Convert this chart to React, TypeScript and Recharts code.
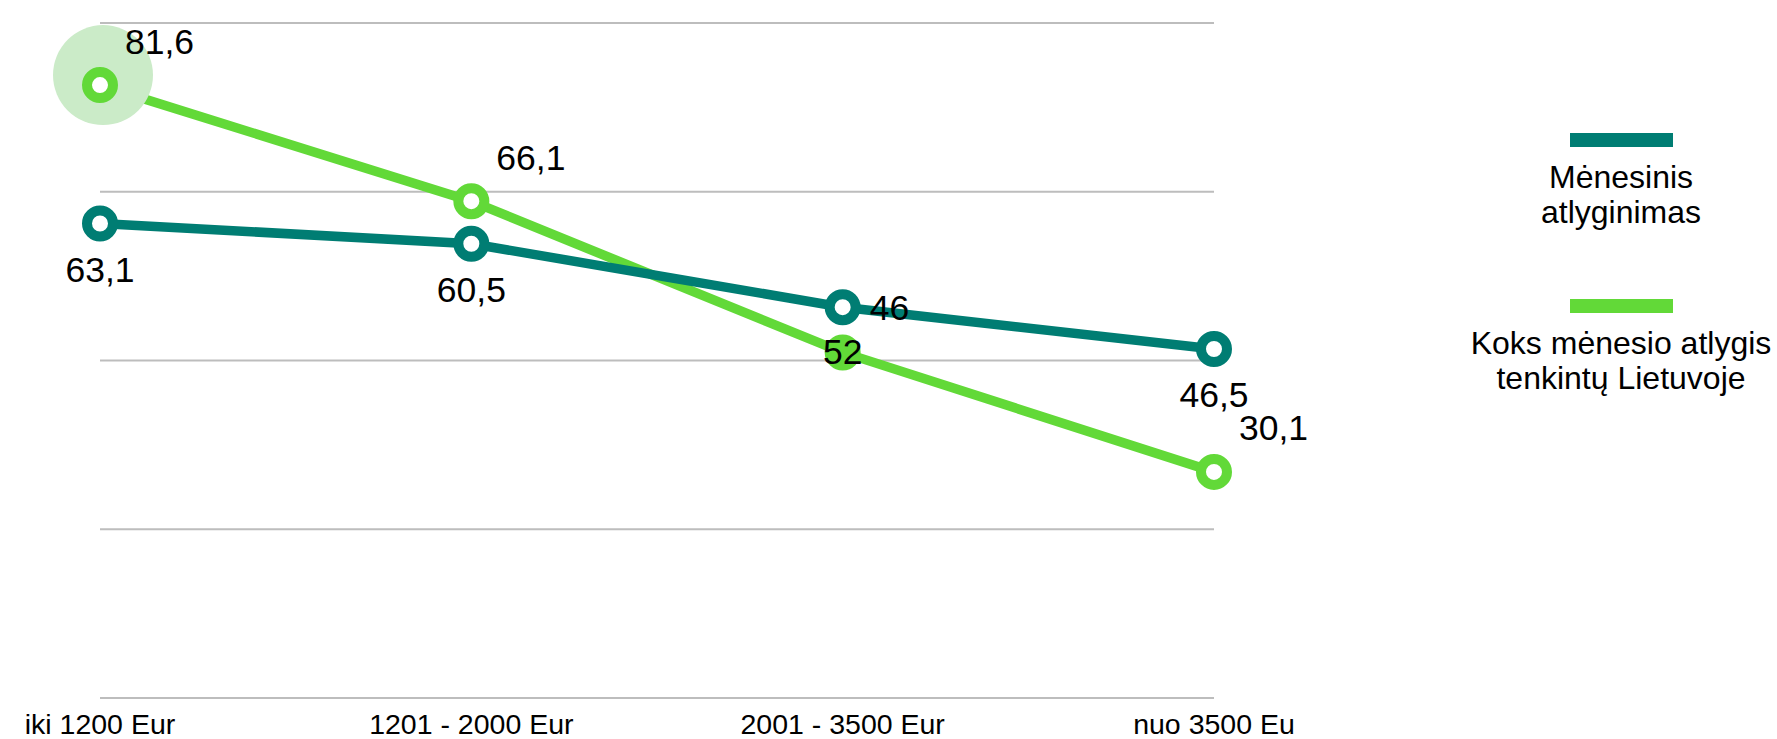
import React from 'react';
import { LineChart, Line, XAxis, YAxis, CartesianGrid, Legend, LabelList, ReferenceDot } from 'recharts';

// ---- data ----
const categories = ['iki 1200 Eur', '1201 - 2000 Eur', '2001 - 3500 Eur', 'nuo 3500 Eu'];
const salaryValues = [70.3, 67.3, 57.9, 51.7];
const satisfiedValues = [90.8, 73.6, 51.2, 33.5];
const salaryLabels = ['63,1', '60,5', '46', '46,5'];
const satisfiedLabels = ['81,6', '66,1', '52', '30,1'];
const yTicks = [0, 25, 50, 75, 100];
const salaryName = 'Mėnesinis\natlyginimas';
const satisfiedName = 'Koks mėnesio atlygis\ntenkintų Lietuvoje';

// ---- styles ----
const FONT = '"Liberation Sans", Arial, Helvetica, sans-serif';
const TEAL = '#007d73';
const GREEN = '#62d938';
const HALO = '#cbebc8';

const data = categories.map((c, i) => ({
  category: c,
  salary: salaryValues[i],
  satisfied: satisfiedValues[i],
  salaryLabel: salaryLabels[i],
  satisfiedLabel: satisfiedLabels[i],
}));

type Placement = { dx: number; dy: number; anchor: 'start' | 'middle' | 'end' };
const satisfiedPlacement: Placement[] = [
  { dx: 25, dy: -31, anchor: 'start' },
  { dx: 25, dy: -31, anchor: 'start' },
  { dx: 0, dy: 12, anchor: 'middle' },
  { dx: 25, dy: -32, anchor: 'start' },
];
const salaryPlacement: Placement[] = [
  { dx: 0, dy: 59, anchor: 'middle' },
  { dx: 0, dy: 58, anchor: 'middle' },
  { dx: 27, dy: 13, anchor: 'start' },
  { dx: 0, dy: 58, anchor: 'middle' },
];

const makeDot = (color: string, filledIndex: number) => (props: any) => {
  const { cx, cy, index } = props;
  if (cx == null || cy == null) return <g key={`e-${index}`} />;
  return (
    <circle
      key={`d-${color}-${index}`}
      cx={cx}
      cy={cy}
      r={13}
      fill={index === filledIndex ? color : '#ffffff'}
      stroke={color}
      strokeWidth={10}
    />
  );
};

const makeLabel = (placements: Placement[]) => (props: any) => {
  const { index, value } = props;
  const x = props.x ?? props.viewBox?.x;
  const y = props.y ?? props.viewBox?.y;
  if (x == null || y == null) return null;
  const p = placements[index] || placements[0];
  return (
    <text
      key={`l-${index}`}
      x={x + p.dx}
      y={y + p.dy}
      textAnchor={p.anchor}
      fontSize={35.5}
      fill="#000000"
      fontFamily={FONT}
    >
      {value}
    </text>
  );
};

const legendOrder = [salaryName, satisfiedName];

const renderLegend = (props: any) => {
  const payload: any[] = props.payload || [];
  const items = legendOrder
    .map((n) => payload.find((p) => p.value === n))
    .filter(Boolean);
  return (
    <div style={{ position: 'relative', width: 320, height: 290 }}>
      {items.map((it: any, i: number) => (
        <div
          key={i}
          style={{ position: 'absolute', left: 0, top: i * 166, width: 320, textAlign: 'center' }}
        >
          <div style={{ width: 103, height: 14, background: it.color, margin: '0 auto' }} />
          <div
            style={{
              marginTop: 13,
              fontSize: 32,
              lineHeight: '35px',
              whiteSpace: 'pre-line',
              color: '#000000',
              fontFamily: FONT,
            }}
          >
            {it.value}
          </div>
        </div>
      ))}
    </div>
  );
};

export default function App() {
  return (
    <div style={{ position: 'absolute', left: 0, top: 0, width: 1777, height: 739, background: '#ffffff', fontFamily: FONT }}>
      <LineChart
        width={1777}
        height={739}
        data={data}
        margin={{ top: 23, right: 563, bottom: 0, left: 100 }}
      >
        <CartesianGrid vertical={false} stroke="#bdbdbd" strokeWidth={2} />
        <XAxis
          dataKey="category"
          axisLine={false}
          tickLine={false}
          interval={0}
          height={41}
          tickMargin={10}
          tick={{ fontSize: 28.5, fill: '#000000', fontFamily: FONT }}
        />
        <YAxis hide domain={[0, 100]} ticks={yTicks} />
        <ReferenceDot
          x={categories[0]}
          y={satisfiedValues[0]}
          r={50}
          ifOverflow="visible"
          shape={(p: any) => <circle cx={p.cx + 3} cy={p.cy - 10} r={50} fill={HALO} stroke="none" />}
        />
        <Legend
          layout="vertical"
          align="center"
          verticalAlign="middle"
          wrapperStyle={{ left: 1461, top: 133, width: 320 }}
          content={renderLegend}
        />
        <Line
          type="linear"
          dataKey="satisfied"
          name={satisfiedName}
          stroke={GREEN}
          strokeWidth={9.5}
          dot={makeDot(GREEN, 2)}
          activeDot={false}
          isAnimationActive={false}
        >
          <LabelList dataKey="satisfiedLabel" content={makeLabel(satisfiedPlacement)} />
        </Line>
        <Line
          type="linear"
          dataKey="salary"
          name={salaryName}
          stroke={TEAL}
          strokeWidth={9.5}
          dot={makeDot(TEAL, -1)}
          activeDot={false}
          isAnimationActive={false}
        >
          <LabelList dataKey="salaryLabel" content={makeLabel(salaryPlacement)} />
        </Line>
      </LineChart>
    </div>
  );
}
